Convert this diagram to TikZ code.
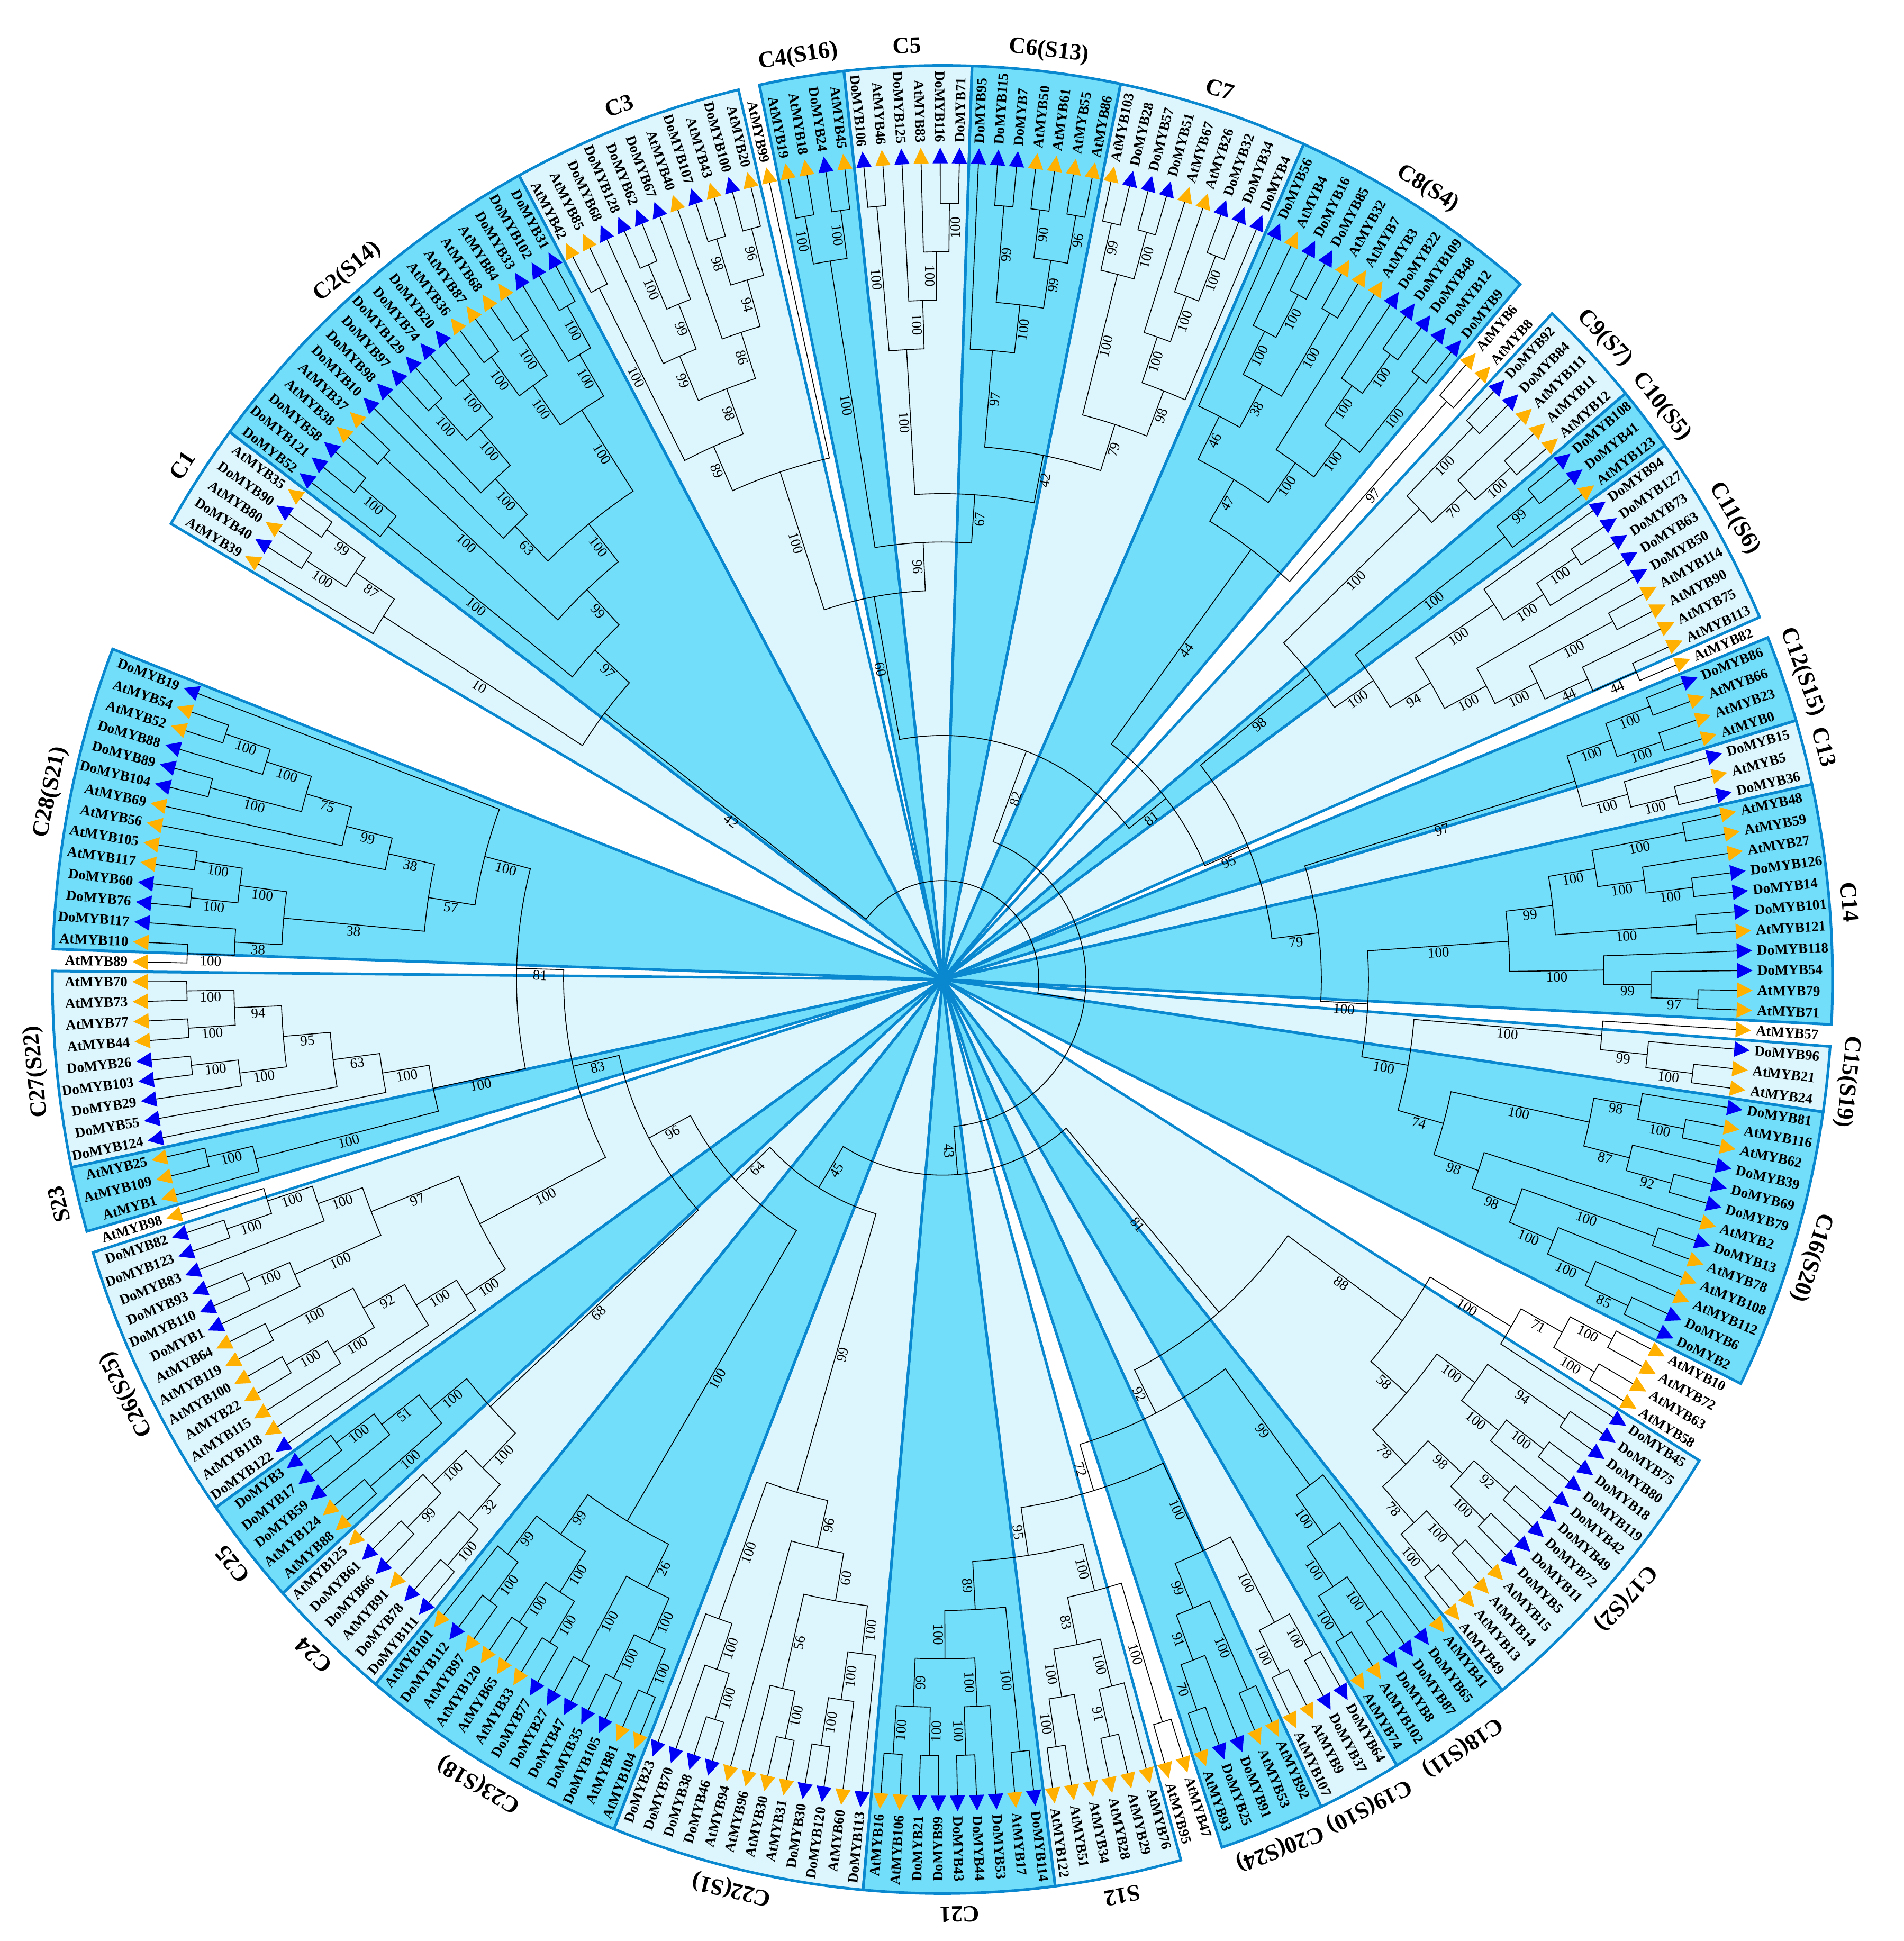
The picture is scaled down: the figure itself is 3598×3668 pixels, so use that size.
\documentclass[tikz,border=0pt]{standalone}
\usepackage{fontspec}
\setmainfont{Liberation Serif}
\definecolor{darkc}{HTML}{72DEFA}
\definecolor{lightc}{HTML}{DDF6FD}
\definecolor{boxc}{HTML}{0A88CF}
\definecolor{orc}{HTML}{FFB000}
\definecolor{blc}{HTML}{0000F5}
\tikzset{
  br/.style={black, line width=1.6pt},
  lf/.style={font=\fontsize{27}{27}\selectfont\bfseries, inner sep=0pt},
  bs/.style={font=\fontsize{27}{27}\selectfont, inner sep=3pt},
  cl/.style={font=\fontsize{44}{44}\selectfont\bfseries, inner sep=0pt},
  boxline/.style={draw=boxc, line width=5pt, line join=miter},
}
\newcommand\Rz{1517}
\newcommand\Rs{89}
\newcommand\Rleaf{1502}
\newcommand\Rbox{1682}
\def\tmpAt{At}
\newcount\bscount
\newcommand\regleaf[1]{%
  \pgfmathsetmacro\tmpang{149.4-1.3776*#1}%
  \expandafter\xdef\csname nA@L#1\endcsname{\tmpang}%
  \expandafter\xdef\csname nH@L#1\endcsname{0}%
  \expandafter\xdef\csname nR@L#1\endcsname{\Rleaf}%
  \expandafter\gdef\csname nT@L#1\endcsname{}}
\newcommand\stemlab[4]{%
  \edef\tmpt{#4}%
  \ifx\tmpt\empty\else
    \pgfmathsetmacro\rM{(#2+#3)/2}%
    \pgfmathsetmacro\vaM{atan2(1.027*sin(#1),cos(#1))}%
    \pgfmathsetmacro\cM{cos(#1)}%
    \ifdim\cM pt<0pt\relax\pgfmathsetmacro\rotM{\vaM+180}\else\let\rotM\vaM\fi
    \global\advance\bscount by 1
    \node[bs, rotate=\rotM, anchor=north] (bs\the\bscount) at (#1:\rM) {\tmpt};
  \fi}
\newcommand\nd[4]{%
  \edef\cA{\csname nA@#2\endcsname}%
  \edef\cB{\csname nA@#3\endcsname}%
  \edef\hA{\csname nH@#2\endcsname}%
  \edef\hB{\csname nH@#3\endcsname}%
  \edef\rA{\csname nR@#2\endcsname}%
  \edef\rB{\csname nR@#3\endcsname}%
  \pgfmathtruncatemacro\hN{max(\hA,\hB)+1}%
  \pgfmathsetmacro\rN{\Rz-\Rs*\hN}%
  \pgfmathsetmacro\aN{(\cA+\cB)/2}%
  \expandafter\xdef\csname nA@#1\endcsname{\aN}%
  \expandafter\xdef\csname nH@#1\endcsname{\hN}%
  \expandafter\xdef\csname nR@#1\endcsname{\rN}%
  \expandafter\gdef\csname nT@#1\endcsname{#4}%
  \draw[br] (\cA:\rA) -- (\cA:\rN) arc[start angle=\cA, end angle=\cB, radius=\rN] -- (\cB:\rB);
  \stemlab{\cA}{\rA}{\rN}{\csname nT@#2\endcsname}%
  \stemlab{\cB}{\rB}{\rN}{\csname nT@#3\endcsname}}
\newcommand\leaf[3]{%
  \pgfmathsetmacro\lfa{149.4-1.3776*#1}%
  \pgfmathsetmacro\lva{atan2(1.027*sin(\lfa),cos(\lfa))}%
  \pgfmathsetmacro\lc{cos(\lfa)}%
  \edef\tmpp{#2}%
  \ifx\tmpp\tmpAt\def\tricol{orc}\else\def\tricol{blc}\fi
  \fill[\tricol] (\lfa:1531) -- (\lfa+0.55:1502) -- (\lfa-0.55:1502) -- cycle;
  \ifdim\lc pt<0pt\relax
    \pgfmathsetmacro\lrot{\lva+180}%
    \node[lf, rotate=\lrot, anchor=east] (l#1) at (\lfa:1540) {#2MYB#3};
  \else
    \node[lf, rotate=\lva, anchor=west] (l#1) at (\lfa:1540) {#2MYB#3};
  \fi}
\def\boxlist{0/4/lightc, 5/22/darkc, 23/33/lightc, 35/38/darkc, 39/44/lightc, 45/51/darkc, 52/60/lightc, 61/72/darkc, 75/79/lightc, 80/82/darkc, 83/91/lightc, 93/96/darkc, 97/99/lightc, 100/110/darkc, 112/114/lightc, 115/127/darkc, 132/145/lightc, 146/151/darkc, 152/155/lightc, 156/160/darkc, 163/168/lightc, 169/177/darkc, 178/189/lightc, 190/202/darkc, 203/208/lightc, 209/213/darkc, 214/226/lightc, 228/230/darkc, 231/239/lightc, 241/254/darkc}
\begin{document}
\begin{tikzpicture}[x=1pt,y=1pt]
\useasboundingbox (-1781,-1817) rectangle (1817,1851);
\begin{scope}[yscale=1.027]
% boxes
\foreach \a/\b/\c in \boxlist {
  \pgfmathsetmacro\ba{149.4-1.3776*\a+0.6888}
  \pgfmathsetmacro\bb{149.4-1.3776*\b-0.6888}
  \fill[\c] (0,0) -- (\ba:\Rbox) arc[start angle=\ba, end angle=\bb, radius=\Rbox] -- cycle;
}
\foreach \a/\b/\c in \boxlist {
  \pgfmathsetmacro\ba{149.4-1.3776*\a+0.6888}
  \pgfmathsetmacro\bb{149.4-1.3776*\b-0.6888}
  \draw[boxline] (0,0) -- (\ba:\Rbox) arc[start angle=\ba, end angle=\bb, radius=\Rbox] -- cycle;
}
% clade labels
\foreach \a/\b/\t in {0/4/C1, 5/22/C2(S14), 23/33/C3, 35/38/C4(S16), 39/44/C5, 45/51/C6(S13), 52/60/C7, 61/72/C8(S4), 75/79/C9(S7), 80/82/C10(S5), 83/91/C11(S6), 93/96/C12(S15), 97/99/C13, 100/110/C14, 112/114/C15(S19), 115/127/C16(S20), 132/145/C17(S2), 146/151/C18(S11), 152/155/C19(S10), 156/160/C20(S24), 163/168/S12, 169/177/C21, 178/189/C22(S1), 190/202/C23(S18), 203/208/C24, 209/213/C25, 214/226/C26(S25), 228/230/S23, 231/239/C27(S22), 241/254/C28(S21)} {
  \pgfmathsetmacro\ma{149.4-1.3776*(\a+\b)/2}
  \pgfmathsetmacro\mva{atan2(1.027*sin(\ma),cos(\ma))-90}
  \node[cl, rotate=\mva] (cl\a) at (\ma:1720) {\t};
}
% leaves registration
\foreach \i in {0,...,254} {\regleaf{\i}}
% ---- tree ----
% C1
\nd{c1a}{L3}{L4}{99}
\nd{c1b}{L1}{L2}{100}
\nd{c1c}{c1b}{c1a}{87}
\nd{C1}{L0}{c1c}{10}
% C2
\nd{p1}{L21}{L22}{100}
\nd{p2}{L20}{p1}{100}
\nd{p3}{L18}{L19}{100}
\nd{p4}{L16}{L17}{100}
\nd{p5}{p4}{p3}{100}
\nd{p6}{p5}{p2}{100}
\nd{q1}{L14}{L15}{100}
\nd{q2}{L12}{L13}{100}
\nd{q3}{q2}{q1}{100}
\nd{q4}{L11}{q3}{100}
\nd{q5}{L10}{q4}{63}
\nd{q6}{q5}{p6}{100}
\nd{q7}{L8}{L9}{100}
\nd{q8}{q7}{q6}{99}
\nd{q9}{L6}{L7}{100}
\nd{q10}{L5}{q9}{100}
\nd{C2}{q10}{q8}{97}
\nd{A}{C1}{C2}{42}
% C3
\nd{c3a}{L32}{L33}{96}
\nd{c3b}{L30}{L31}{98}
\nd{c3c}{c3b}{c3a}{94}
\nd{c3d}{L29}{c3c}{86}
\nd{c3e}{L26}{L27}{100}
\nd{c3f}{c3e}{L28}{99}
\nd{c3g}{L25}{c3f}{99}
\nd{c3h}{c3g}{c3d}{98}
\nd{c3i}{L23}{L24}{100}
\nd{C3}{c3i}{c3h}{89}
\nd{C3x}{C3}{L34}{100}
% C4
\nd{c4a}{L35}{L36}{100}
\nd{c4b}{L37}{L38}{100}
\nd{C4}{c4a}{c4b}{100}
% C5
\nd{c5a}{L43}{L44}{100}
\nd{c5b}{L42}{c5a}{100}
\nd{c5c}{L41}{c5b}{100}
\nd{c5d}{L39}{L40}{100}
\nd{C5}{c5d}{c5c}{100}
% C6
\nd{c6a}{L46}{L47}{99}
\nd{c6b}{L48}{L49}{90}
\nd{c6c}{L50}{L51}{96}
\nd{c6d}{c6b}{c6c}{99}
\nd{c6e}{c6a}{c6d}{100}
\nd{C6}{L45}{c6e}{97}
% C7
\nd{c7a}{L52}{L53}{99}
\nd{c7b}{L54}{L55}{100}
\nd{c7c}{c7a}{c7b}{100}
\nd{c7d}{L58}{L59}{100}
\nd{c7e}{L57}{c7d}{100}
\nd{c7f}{L56}{c7e}{100}
\nd{c7g}{c7f}{L60}{98}
\nd{C7}{c7c}{c7g}{79}
\nd{Q1}{C6}{C7}{42}
\nd{Q2}{C5}{Q1}{67}
\nd{Q3}{C4}{Q2}{96}
\nd{B1a}{C3x}{Q3}{60}
% C8
\nd{c8a}{L63}{L64}{100}
\nd{c8b}{L62}{c8a}{100}
\nd{c8c}{L65}{L66}{100}
\nd{c8d}{c8b}{c8c}{38}
\nd{c8e}{L61}{c8d}{46}
\nd{c8f}{L69}{L70}{100}
\nd{c8g}{L68}{c8f}{100}
\nd{c8h}{L71}{L72}{100}
\nd{c8i}{c8g}{c8h}{100}
\nd{c8j}{L67}{c8i}{100}
\nd{C8}{c8e}{c8j}{47}
\nd{X68}{L73}{L74}{97}
\nd{V1}{C8}{X68}{44}
% C9
\nd{c9a}{L75}{L76}{100}
\nd{c9b}{L78}{L79}{100}
\nd{c9c}{L77}{c9b}{70}
\nd{C9}{c9a}{c9c}{100}
% C10
\nd{c10a}{L80}{L81}{99}
\nd{C10}{c10a}{L82}{100}
% C11
\nd{c11a}{L84}{L85}{100}
\nd{c11b}{c11a}{L86}{100}
\nd{c11c}{L83}{c11b}{100}
\nd{c11d}{L88}{L89}{100}
\nd{c11e}{L91}{L92}{44}
\nd{c11f}{L90}{c11e}{44}
\nd{c11g}{c11d}{c11f}{100}
\nd{c11h}{L87}{c11g}{100}
\nd{C11}{c11c}{c11h}{94}
\nd{V2}{C10}{C11}{100}
\nd{V3}{C9}{V2}{98}
% C12, C13
\nd{c12a}{L93}{L94}{100}
\nd{c12b}{L95}{L96}{100}
\nd{C12}{c12a}{c12b}{100}
\nd{c13a}{L98}{L99}{100}
\nd{C13}{L97}{c13a}{100}
\nd{V4}{C12}{C13}{97}
% C14
\nd{c14a}{L100}{L101}{100}
\nd{c14b}{L103}{L104}{100}
\nd{c14c}{L102}{c14b}{100}
\nd{c14d}{c14a}{c14c}{100}
\nd{c14e}{L105}{L106}{100}
\nd{c14f}{c14d}{c14e}{99}
\nd{c14g}{L109}{L110}{97}
\nd{c14h}{L108}{c14g}{99}
\nd{c14i}{L107}{c14h}{100}
\nd{C14}{c14f}{c14i}{100}
% C15
\nd{c15a}{L113}{L114}{100}
\nd{C15}{L112}{c15a}{99}
\nd{C15x}{L111}{C15}{100}
% C16
\nd{c16a}{L116}{L117}{100}
\nd{c16b}{L115}{c16a}{98}
\nd{c16c}{L119}{L120}{92}
\nd{c16d}{L118}{c16c}{87}
\nd{c16e}{c16b}{c16d}{100}
\nd{c16f}{L126}{L127}{85}
\nd{c16g}{L125}{c16f}{100}
\nd{c16h}{L124}{c16g}{100}
\nd{c16i}{L122}{L123}{100}
\nd{c16j}{c16i}{c16h}{98}
\nd{c16k}{L121}{c16j}{98}
\nd{C16}{c16e}{c16k}{74}
\nd{V5}{C15x}{C16}{100}
\nd{V6}{C14}{V5}{100}
\nd{V7}{V4}{V6}{79}
\nd{V8}{V3}{V7}{95}
\nd{B1b}{V1}{V8}{81}
\nd{B1}{B1a}{B1b}{82}
% unboxed + C17
\nd{x4a}{L128}{L129}{100}
\nd{x4b}{L130}{L131}{100}
\nd{Z}{x4a}{x4b}{71}
\nd{Y}{Z}{L132}{100}
\nd{c17a}{L133}{L134}{94}
\nd{c17b}{L135}{L136}{100}
\nd{c17c}{c17b}{L137}{100}
\nd{c17d}{c17a}{c17c}{100}
\nd{c17e}{L138}{L139}{92}
\nd{c17f}{L140}{L141}{100}
\nd{c17g}{c17e}{c17f}{98}
\nd{c17h}{L142}{L143}{100}
\nd{c17i}{L144}{L145}{100}
\nd{c17j}{c17h}{c17i}{78}
\nd{c17k}{c17g}{c17j}{78}
\nd{C17}{c17d}{c17k}{58}
\nd{C17x}{Y}{C17}{88}
% C18
\nd{c18a}{L148}{L149}{100}
\nd{c18b}{L150}{L151}{100}
\nd{c18c}{c18a}{c18b}{100}
\nd{c18d}{L147}{c18c}{100}
\nd{C18}{L146}{c18d}{99}
% C19, C20
\nd{c19a}{L152}{L153}{100}
\nd{c19b}{L154}{L155}{100}
\nd{C19}{c19a}{c19b}{100}
\nd{c20a}{L156}{L157}{100}
\nd{c20b}{L159}{L160}{70}
\nd{c20c}{L158}{c20b}{91}
\nd{C20}{c20a}{c20c}{99}
\nd{E1}{C19}{C20}{100}
% X5, S12
\nd{X5}{L161}{L162}{100}
\nd{s12a}{L167}{L168}{100}
\nd{s12e}{L166}{s12a}{100}
\nd{s12b}{L164}{L165}{91}
\nd{s12c}{L163}{s12b}{100}
\nd{S12}{s12c}{s12e}{83}
\nd{E2}{X5}{S12}{100}
% C21
\nd{c21a}{L169}{L170}{100}
\nd{c21b}{L172}{L173}{100}
\nd{c21c}{L171}{c21b}{100}
\nd{c21d}{L174}{L175}{100}
\nd{c21e}{L176}{L177}{100}
\nd{c21f}{c21d}{c21e}{99}
\nd{c21g}{c21c}{c21f}{100}
\nd{C21}{c21a}{c21g}{89}
\nd{E3}{E2}{C21}{95}
\nd{E4}{E1}{E3}{72}
\nd{E5}{C18}{E4}{92}
\nd{B2b}{C17x}{E5}{81}
% C22
\nd{c22a}{L180}{L181}{100}
\nd{c22b}{L179}{c22a}{100}
\nd{c22c}{L178}{c22b}{100}
\nd{c22d}{L182}{L183}{100}
\nd{c22e}{c22d}{L184}{56}
\nd{c22f}{c22c}{c22e}{60}
\nd{c22g}{c22f}{L185}{96}
\nd{c22h}{L186}{L187}{100}
\nd{c22i}{c22h}{L188}{100}
\nd{c22j}{c22i}{L189}{100}
\nd{C22}{c22g}{c22j}{99}
% C23
\nd{c23a}{L190}{L191}{100}
\nd{c23b}{L192}{L193}{100}
\nd{c23c}{c23a}{c23b}{100}
\nd{c23d}{L194}{L195}{100}
\nd{c23e}{c23c}{c23d}{26}
\nd{c23f}{L196}{L197}{100}
\nd{c23g}{L198}{L199}{100}
\nd{c23h}{c23f}{c23g}{100}
\nd{c23i}{L200}{L201}{100}
\nd{c23j}{c23i}{L202}{99}
\nd{c23k}{c23h}{c23j}{99}
\nd{C23}{c23e}{c23k}{100}
% C24, C25
\nd{c24a}{L203}{L204}{100}
\nd{c24b}{c24a}{L205}{32}
\nd{c24c}{L206}{L207}{99}
\nd{c24d}{c24c}{L208}{100}
\nd{C24}{c24b}{c24d}{100}
\nd{c25a}{L209}{L210}{100}
\nd{c25b}{L212}{L213}{100}
\nd{c25c}{L211}{c25b}{51}
\nd{C25}{c25a}{c25c}{100}
\nd{C2425}{C24}{C25}{68}
% C26
\nd{c26a}{L225}{L226}{100}
\nd{c26b}{c26a}{L227}{100}
\nd{c26c}{L224}{c26b}{100}
\nd{c26d}{L222}{L223}{100}
\nd{c26e}{L221}{c26d}{100}
\nd{c26f}{c26e}{c26c}{97}
\nd{c26g}{L219}{L220}{100}
\nd{c26h}{L217}{L218}{100}
\nd{c26i}{L216}{c26h}{100}
\nd{c26j}{c26i}{c26g}{92}
\nd{c26k}{L215}{c26j}{100}
\nd{c26l}{L214}{c26k}{100}
\nd{C26x}{c26l}{c26f}{100}
% S23, C27
\nd{s23a}{L229}{L230}{100}
\nd{S23}{L228}{s23a}{100}
\nd{c27a}{L238}{L239}{100}
\nd{c27b}{L236}{L237}{100}
\nd{c27c}{c27b}{c27a}{94}
\nd{c27d}{L234}{L235}{100}
\nd{c27e}{L233}{c27d}{100}
\nd{c27f}{c27e}{c27c}{95}
\nd{c27g}{L232}{c27f}{63}
\nd{C27}{L231}{c27g}{100}
\nd{K1}{S23}{C27}{100}
% C28
\nd{c28a}{L240}{L241}{100}
\nd{c28b}{c28a}{L242}{38}
\nd{c28c}{L243}{L244}{100}
\nd{c28d}{L245}{L246}{100}
\nd{c28e}{c28c}{c28d}{100}
\nd{c28f}{c28b}{c28e}{38}
\nd{c28g}{L249}{L250}{100}
\nd{c28h}{L252}{L253}{100}
\nd{c28i}{L251}{c28h}{100}
\nd{c28j}{c28g}{c28i}{75}
\nd{c28k}{L248}{c28j}{99}
\nd{c28l}{L247}{c28k}{38}
\nd{c28m}{c28f}{c28l}{57}
\nd{C28x}{c28m}{L254}{100}
\nd{K2}{K1}{C28x}{81}
\nd{K3}{C26x}{K2}{83}
\nd{K4}{C2425}{K3}{96}
\nd{L64}{C23}{K4}{64}
\nd{B2a}{C22}{L64}{45}
\nd{B2}{B2a}{B2b}{43}
\nd{N}{B1}{B2}{}
\nd{root}{A}{N}{}
% leaves
\foreach \i/\p/\n in {0/At/39,1/Do/40,2/At/80,3/Do/90,4/At/35,5/Do/52,6/Do/121,7/Do/58,8/At/38,9/At/37,10/Do/10,11/Do/98,12/Do/97,13/Do/129,14/Do/74,15/Do/20,16/At/36,17/At/87,18/At/68,19/At/84,20/Do/33,21/Do/102,22/Do/31,23/At/42,24/At/85,25/Do/68,26/Do/128,27/Do/62,28/Do/67,29/At/40,30/Do/107,31/At/43,32/Do/100,33/At/20,34/At/99,35/At/19,36/At/18,37/Do/24,38/At/45,39/Do/106,40/At/46,41/Do/125,42/At/83,43/Do/116,44/Do/71,45/Do/95,46/Do/115,47/Do/7,48/At/50,49/At/61,50/At/55,51/At/86,52/At/103,53/Do/28,54/Do/57,55/Do/51,56/At/67,57/At/26,58/Do/32,59/Do/34,60/Do/4,61/Do/56,62/At/4,63/Do/16,64/Do/85,65/At/32,66/At/7,67/At/3,68/Do/22,69/Do/109,70/Do/48,71/Do/12,72/Do/9,73/At/6,74/At/8,75/Do/92,76/Do/84,77/At/111,78/At/11,79/At/12,80/Do/108,81/Do/41,82/At/123,83/Do/94,84/Do/127,85/Do/73,86/Do/63,87/Do/50,88/At/114,89/At/90,90/At/75,91/At/113,92/At/82,93/Do/86,94/At/66,95/At/23,96/At/0,97/Do/15,98/At/5,99/Do/36,100/At/48,101/At/59,102/At/27,103/Do/126,104/Do/14,105/Do/101,106/At/121,107/Do/118,108/Do/54,109/At/79,110/At/71,111/At/57,112/Do/96,113/At/21,114/At/24,115/Do/81,116/At/116,117/At/62,118/Do/39,119/Do/69,120/Do/79,121/At/2,122/Do/13,123/At/78,124/At/108,125/At/112,126/Do/6,127/Do/2,128/At/10,129/At/72,130/At/63,131/At/58,132/Do/45,133/Do/75,134/Do/80,135/Do/18,136/Do/119,137/Do/42,138/Do/49,139/Do/72,140/Do/11,141/Do/5,142/At/15,143/At/14,144/At/13,145/At/49,146/At/41,147/Do/65,148/Do/87,149/Do/8,150/At/102,151/At/74,152/Do/64,153/Do/37,154/At/9,155/At/107,156/At/92,157/At/53,158/Do/91,159/Do/25,160/At/93,161/At/47,162/At/95,163/At/76,164/At/29,165/At/28,166/At/34,167/At/51,168/At/122,169/Do/114,170/At/17,171/Do/53,172/Do/44,173/Do/43,174/Do/99,175/Do/21,176/At/106,177/At/16,178/Do/113,179/At/60,180/Do/120,181/Do/30,182/At/31,183/At/30,184/At/96,185/At/94,186/Do/46,187/Do/38,188/Do/70,189/Do/23,190/At/104,191/At/81,192/Do/105,193/Do/35,194/Do/47,195/Do/27,196/Do/77,197/At/33,198/At/65,199/At/120,200/At/97,201/Do/112,202/At/101,203/Do/111,204/Do/78,205/At/91,206/Do/66,207/Do/61,208/At/125,209/At/88,210/At/124,211/Do/59,212/Do/17,213/Do/3,214/Do/122,215/At/118,216/At/115,217/At/22,218/At/100,219/At/119,220/At/64,221/Do/1,222/Do/110,223/Do/93,224/Do/83,225/Do/123,226/Do/82,227/At/98,228/At/1,229/At/109,230/At/25,231/Do/124,232/Do/55,233/Do/29,234/Do/103,235/Do/26,236/At/44,237/At/77,238/At/73,239/At/70,240/At/89,241/At/110,242/Do/117,243/Do/76,244/Do/60,245/At/117,246/At/105,247/At/56,248/At/69,249/Do/104,250/Do/89,251/Do/88,252/At/52,253/At/54,254/Do/19} {\leaf{\i}{\p}{\n}}
\end{scope}
\end{tikzpicture}
\end{document}
